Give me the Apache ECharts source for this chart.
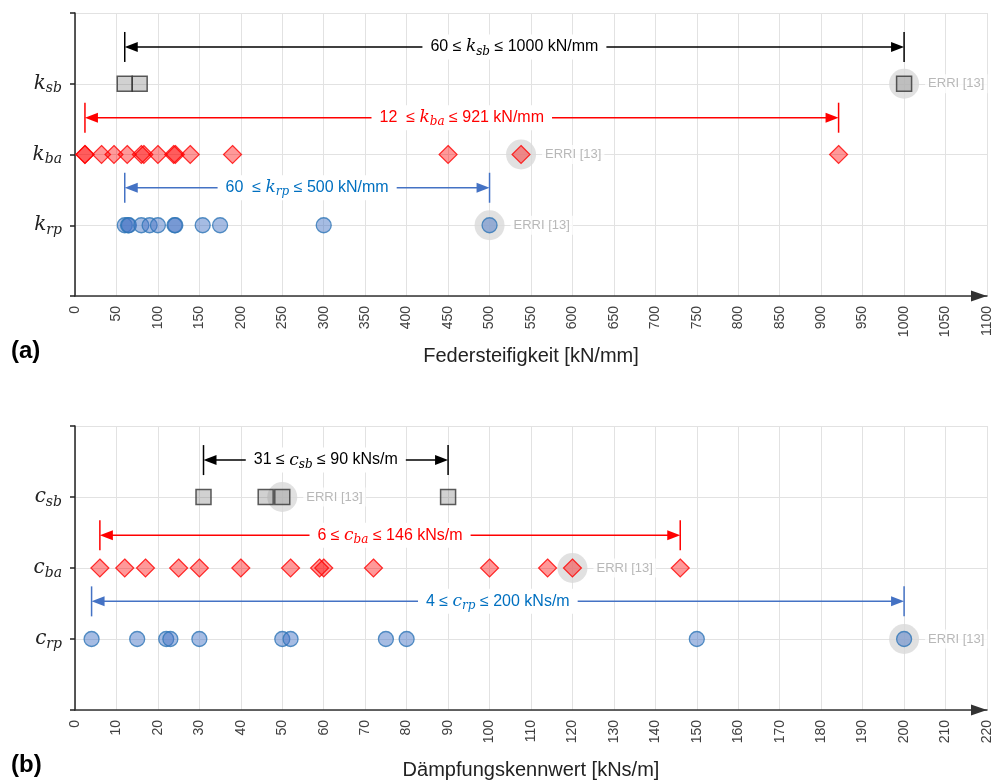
<!DOCTYPE html>
<html><head><meta charset="utf-8">
<script src="https://cdn.jsdelivr.net/npm/echarts@6/dist/echarts.min.js"></script>
<style>html,body{margin:0;padding:0;background:#fff}#c{width:992px;height:780px}</style>
</head><body><div id="c"></div>
<script>
// ---------- axis settings ----------
const stiffnessMax = 1100, stiffnessStep = 50;
const dampingMax = 220, dampingStep = 10;
const rowSubscripts = ['', 'rp', 'ba', 'sb'];   // row 1..3 (bottom -> top)

// ---------- (a) Federsteifigkeit [kN/mm] ----------
const kSb = [60, 78, 1000];
const kBa = [12, 12, 32, 47, 63, 80, 83, 100, 119, 121, 139, 190, 450, 538, 921];
const kRp = [60, 64, 65, 80, 90, 100, 120, 121, 154, 175, 300, 500];
const kErri = [[1000, 3], [538, 2], [500, 1]];
const kRangeSb = [60, 1000];
const kRangeBa = [12, 921];
const kRangeRp = [60, 500];

// ---------- (b) Dämpfungskennwert [kNs/m] ----------
const cSb = [31, 46, 50, 90];
const cBa = [6, 12, 17, 25, 30, 40, 52, 59, 60, 72, 100, 114, 120, 146];
const cRp = [4, 15, 22, 23, 30, 50, 52, 75, 80, 150, 200];
const cErri = [[50, 3], [120, 2], [200, 1]];
const cRangeSb = [31, 90];
const cRangeBa = [6, 146];
const cRangeRp = [4, 200];

const SANS = 'Liberation Sans, Arial, sans-serif';
const SERIF = 'DejaVu Serif, serif';
const RED = '#ff0000', BLUE_LINE = '#4472c4', BLUE_TEXT = '#0070c0', BLACK = '#000000';

const chart = echarts.init(document.getElementById('c'), null, {renderer: 'canvas'});

function xAxisCfg(gi, max, step, name) {
  return {
    gridIndex: gi, type: 'value', min: 0, max: max, interval: step,
    axisLine: {show: true, onZero: false, lineStyle: {color: '#333', width: 1.5},
      symbol: ['none', 'triangle'], symbolSize: [11, 16], symbolOffset: [0, -8]},
    axisTick: {show: false},
    axisLabel: {rotate: 90, margin: 10, fontSize: 14, color: '#404040', fontFamily: SANS,
      formatter: v => String(v)},
    splitLine: {show: true, lineStyle: {color: '#e2e2e2', width: 1}},
    name: name, nameLocation: 'middle', nameGap: 50,
    nameTextStyle: {fontSize: 20, color: '#222', fontFamily: SANS}
  };
}
function yAxisCfg(gi, sym) {
  return {
    gridIndex: gi, type: 'value', min: 0, max: 4, interval: 1,
    axisLine: {show: true, onZero: false, lineStyle: {color: '#222', width: 1.5}},
    axisTick: {show: true, length: 5, lineStyle: {color: '#222', width: 1.5}},
    axisLabel: {
      margin: 13,
      formatter: v => (v >= 1 && v <= 3) ? `{m|${sym}}{s|${rowSubscripts[v]}}` : '',
      rich: {
        m: {fontFamily: SERIF, fontStyle: 'italic', fontSize: 20, color: '#222'},
        s: {fontFamily: SERIF, fontStyle: 'italic', fontSize: 14, color: '#222', padding: [10, 0, 0, 0]}
      }
    },
    splitLine: {show: true, lineStyle: {color: '#e2e2e2', width: 1}}
  };
}
function haloSeries(gi, pts) {
  return {
    type: 'scatter', xAxisIndex: gi, yAxisIndex: gi, silent: true, z: 2,
    symbol: 'circle', symbolSize: 30,
    itemStyle: {color: '#d9d9d9'},
    data: pts,
    label: {show: true, position: 'right', distance: 6, formatter: 'ERRI [13]',
      color: '#a6a6a6', fontSize: 13, fontFamily: SANS, backgroundColor: '#fff', padding: [3, 3]}
  };
}
function markSeries(gi, vals, row, kind) {
  const st = {
    sb: {symbol: 'rect', size: 15, item: {color: 'rgba(128,128,128,0.45)', borderColor: '#333', borderWidth: 1.5}},
    ba: {symbol: 'diamond', size: 18, item: {color: 'rgba(255,0,0,0.5)', borderColor: RED, borderWidth: 1.2}},
    rp: {symbol: 'circle', size: 15, item: {color: 'rgba(68,114,196,0.6)', borderColor: '#2e75b6', borderWidth: 1.3}}
  }[kind];
  return {
    type: 'scatter', xAxisIndex: gi, yAxisIndex: gi, silent: true, z: 3,
    symbol: st.symbol, symbolSize: st.size, itemStyle: st.item,
    data: vals.map(v => [v, row])
  };
}
function rangeSeries(gi, ranges) {
  return {
    type: 'custom', xAxisIndex: gi, yAxisIndex: gi, silent: true, z: 4, clip: false,
    data: ranges.map(r => [r.lo, r.hi, r.y]),
    encode: {x: [0, 1], y: 2},
    renderItem(params, api) {
      const r = ranges[params.dataIndex];
      const a = api.coord([api.value(0), api.value(2)]);
      const b = api.coord([api.value(1), api.value(2)]);
      const y = a[1], L = 13, H = 5, T = 15;
      const ls = {stroke: r.line, lineWidth: 1.5};
      return {type: 'group', children: [
        {type: 'line', shape: {x1: a[0] + L - 2, y1: y, x2: b[0] - L + 2, y2: y}, style: ls},
        {type: 'line', shape: {x1: a[0], y1: y - T, x2: a[0], y2: y + T}, style: ls},
        {type: 'line', shape: {x1: b[0], y1: y - T, x2: b[0], y2: y + T}, style: ls},
        {type: 'polygon', shape: {points: [[a[0], y], [a[0] + L, y - H], [a[0] + L, y + H]]}, style: {fill: r.line}},
        {type: 'polygon', shape: {points: [[b[0], y], [b[0] - L, y - H], [b[0] - L, y + H]]}, style: {fill: r.line}},
        {type: 'text', x: (a[0] + b[0]) / 2, y: y, style: {
          text: r.text, fill: r.textColor, fontSize: 16, fontFamily: SANS,
          align: 'center', verticalAlign: 'middle', backgroundColor: '#fff', padding: [2, 8],
          rich: {
            m: {fontFamily: SERIF, fontStyle: 'italic', fontSize: 17, fill: r.textColor},
            s: {fontFamily: SERIF, fontStyle: 'italic', fontSize: 12, fill: r.textColor, padding: [9, 0, 0, 0]}
          }
        }}
      ]};
    }
  };
}
function rangeText(lo, hi, sym, sub, unit, gap) {
  return `${lo}${gap} ≤ {m|${sym}}{s|${sub}} ≤ ${hi} ${unit}`;
}

const rangesA = [
  {lo: kRangeSb[0], hi: kRangeSb[1], y: 3.52, line: BLACK, textColor: BLACK, text: rangeText(kRangeSb[0], kRangeSb[1], 'k', 'sb', 'kN/mm', '')},
  {lo: kRangeBa[0], hi: kRangeBa[1], y: 2.52, line: RED, textColor: RED, text: rangeText(kRangeBa[0], kRangeBa[1], 'k', 'ba', 'kN/mm', ' ')},
  {lo: kRangeRp[0], hi: kRangeRp[1], y: 1.53, line: BLUE_LINE, textColor: BLUE_TEXT, text: rangeText(kRangeRp[0], kRangeRp[1], 'k', 'rp', 'kN/mm', ' ')}
];
const rangesB = [
  {lo: cRangeSb[0], hi: cRangeSb[1], y: 3.52, line: BLACK, textColor: BLACK, text: rangeText(cRangeSb[0], cRangeSb[1], 'c', 'sb', 'kNs/m', '')},
  {lo: cRangeBa[0], hi: cRangeBa[1], y: 2.46, line: RED, textColor: RED, text: rangeText(cRangeBa[0], cRangeBa[1], 'c', 'ba', 'kNs/m', '')},
  {lo: cRangeRp[0], hi: cRangeRp[1], y: 1.53, line: BLUE_LINE, textColor: BLUE_TEXT, text: rangeText(cRangeRp[0], cRangeRp[1], 'c', 'rp', 'kNs/m', '')}
];

chart.setOption({
  animation: false,
  backgroundColor: '#fff',
  title: [
    {text: '(a)', left: 6, top: 334, textStyle: {fontSize: 24, fontWeight: 'bold', color: '#000', fontFamily: SANS}},
    {text: '(b)', left: 6, top: 748, textStyle: {fontSize: 24, fontWeight: 'bold', color: '#000', fontFamily: SANS}}
  ],
  grid: [
    {left: 75, right: 5, top: 13, height: 283, outerBoundsMode: 'none', containLabel: false},
    {left: 75, right: 5, top: 426, height: 284, outerBoundsMode: 'none', containLabel: false}
  ],
  xAxis: [
    xAxisCfg(0, stiffnessMax, stiffnessStep, 'Federsteifigkeit [kN/mm]'),
    xAxisCfg(1, dampingMax, dampingStep, 'Dämpfungskennwert [kNs/m]')
  ],
  yAxis: [yAxisCfg(0, 'k'), yAxisCfg(1, 'c')],
  series: [
    haloSeries(0, kErri),
    markSeries(0, kSb, 3, 'sb'),
    markSeries(0, kBa, 2, 'ba'),
    markSeries(0, kRp, 1, 'rp'),
    rangeSeries(0, rangesA),
    haloSeries(1, cErri),
    markSeries(1, cSb, 3, 'sb'),
    markSeries(1, cBa, 2, 'ba'),
    markSeries(1, cRp, 1, 'rp'),
    rangeSeries(1, rangesB)
  ]
});
</script></body></html>
